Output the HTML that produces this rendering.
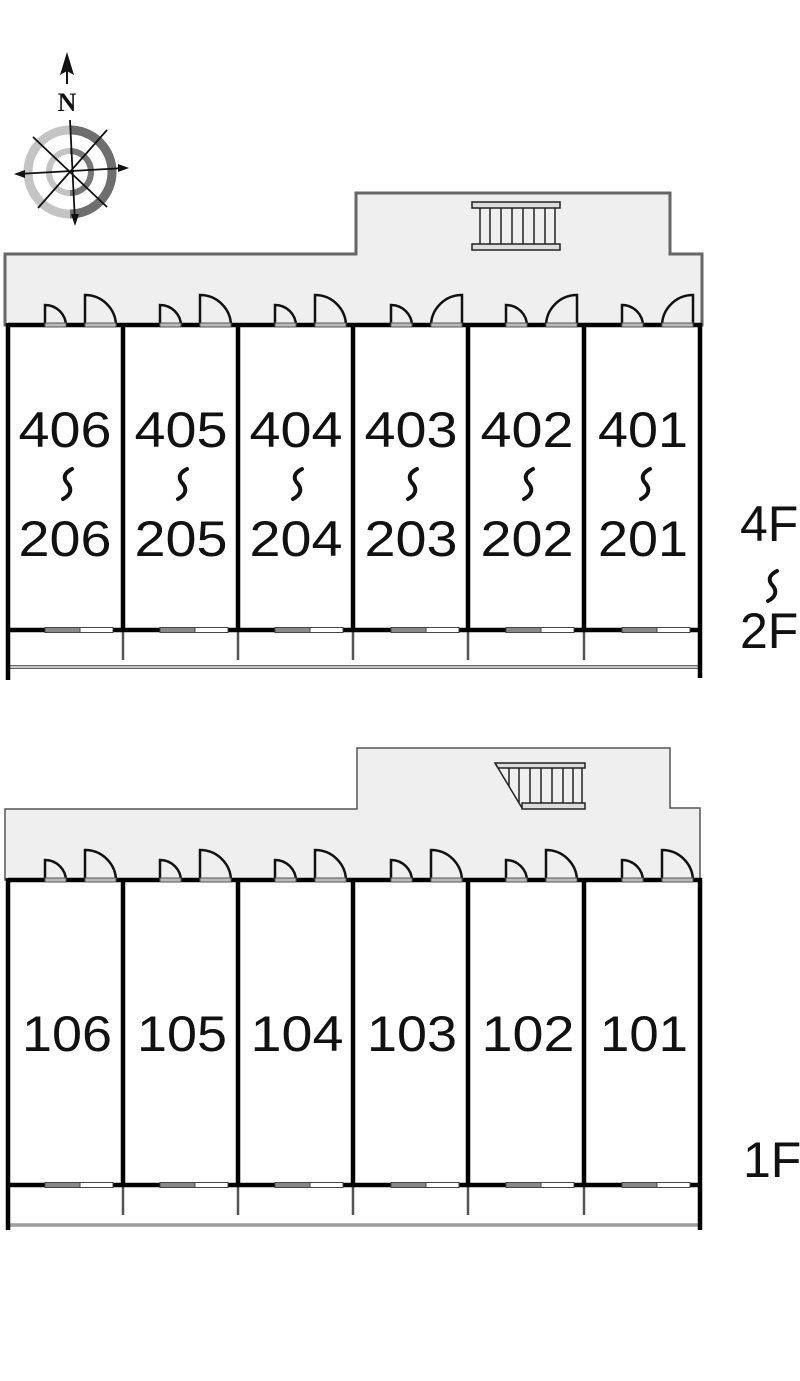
<!DOCTYPE html>
<html><head><meta charset="utf-8"><style>
html,body{margin:0;padding:0;background:#fff;}
svg{display:block;}
text{font-family:"Liberation Sans",sans-serif;fill:#111;}
</style></head><body>
<svg width="800" height="1381" viewBox="0 0 800 1381" xmlns="http://www.w3.org/2000/svg">
<defs>
<g id="sq"><path d="M5,-15 C-5,-10 -3,-4 1,0 C5,5 4,11 -4,15" fill="none" stroke="#111" stroke-width="4" stroke-linecap="round"/></g>
<g id="sdoor"><path d="M0,0 V-21 A21,21 0 0 1 21,0" fill="none" stroke="#111" stroke-width="2.5"/><rect x="0" y="-3" width="21" height="4" fill="#bbb" stroke="#555" stroke-width="1"/></g>
<g id="bdoorL"><path d="M0,0 V-31 A31,31 0 0 1 31,0" fill="none" stroke="#111" stroke-width="2.5"/><rect x="0" y="-3" width="31" height="4" fill="#bbb" stroke="#555" stroke-width="1"/></g>
<g id="bdoorR"><path d="M31,0 V-31 A31,31 0 0 0 0,0" fill="none" stroke="#111" stroke-width="2.5"/><rect x="0" y="-3" width="31" height="4" fill="#bbb" stroke="#555" stroke-width="1"/></g>
<g id="win"><rect x="0" y="-2.5" width="35" height="5" fill="#888" stroke="#444" stroke-width="1"/><rect x="35" y="-2.5" width="33" height="5" fill="#fff" stroke="#444" stroke-width="1"/></g>
</defs>

<!-- compass -->
<g>
<circle cx="70" cy="172" r="42" fill="none" stroke="#c4c4c4" stroke-width="9"/>
<path d="M70,130 A42,42 0 0 1 70,214" fill="none" stroke="#6e6e6e" stroke-width="9"/>
<circle cx="70" cy="172" r="21" fill="none" stroke="#c4c4c4" stroke-width="6"/>
<path d="M70,151 A21,21 0 0 1 70,193" fill="none" stroke="#777" stroke-width="6"/>
<line x1="70" y1="120" x2="75" y2="222" stroke="#111" stroke-width="1.8"/>
<line x1="18" y1="174" x2="125" y2="168" stroke="#111" stroke-width="1.8"/>
<line x1="33" y1="137" x2="107" y2="207" stroke="#111" stroke-width="1.8"/>
<line x1="38" y1="208" x2="107" y2="130" stroke="#111" stroke-width="1.8"/>
<polygon points="75,226 71,214 79,214" fill="#111"/>
<polygon points="14,174 25,170 25,178" fill="#111"/>
<polygon points="129,168 118,164 118,172" fill="#111"/>
<line x1="67" y1="60" x2="67" y2="84" stroke="#111" stroke-width="2"/>
<polygon points="67,52 60,75 67,71 74,75" fill="#111"/>
<text x="67" y="111" font-weight="bold" font-size="26" text-anchor="middle" style="font-family:'Liberation Serif',serif">N</text>
</g>

<!-- UPPER -->
<polygon points="5,325 5,254 356,254 356,193 670,193 670,254 702,254 702,325" fill="#efefef" stroke="#666" stroke-width="3"/>
<g stroke="#222" stroke-width="1.5">
<rect x="472" y="202" width="88" height="6" fill="#ddd"/>
<rect x="472" y="244" width="88" height="6" fill="#ddd"/>
<line x1="480" y1="208" x2="480" y2="244"/><line x1="490" y1="208" x2="490" y2="244"/><line x1="501" y1="208" x2="501" y2="244"/><line x1="512" y1="208" x2="512" y2="244"/><line x1="523" y1="208" x2="523" y2="244"/><line x1="534" y1="208" x2="534" y2="244"/><line x1="545" y1="208" x2="545" y2="244"/><line x1="555" y1="208" x2="555" y2="244"/>
</g>
<line x1="8" y1="667" x2="700" y2="667" stroke="#666" stroke-width="4"/>
<line x1="8" y1="667" x2="700" y2="667" stroke="#fff" stroke-width="1.2"/>
<g stroke="#555" stroke-width="2.5">
<line x1="123" y1="630" x2="123" y2="660"/><line x1="238" y1="630" x2="238" y2="660"/><line x1="353" y1="630" x2="353" y2="660"/><line x1="468" y1="630" x2="468" y2="660"/><line x1="584" y1="630" x2="584" y2="660"/>
</g>
<g stroke="#000" stroke-width="4.5">
<line x1="8" y1="325" x2="702" y2="325"/>
<line x1="8" y1="630" x2="700" y2="630"/>
<line x1="8" y1="323" x2="8" y2="680"/>
<line x1="700" y1="323" x2="700" y2="678"/>
<line x1="123" y1="325" x2="123" y2="630"/><line x1="238" y1="325" x2="238" y2="630"/><line x1="353" y1="325" x2="353" y2="630"/><line x1="468" y1="325" x2="468" y2="630"/><line x1="584" y1="325" x2="584" y2="630"/>
</g>
<g>
<use href="#sdoor" x="45" y="326"/><use href="#bdoorL" x="85" y="326"/><use href="#win" x="45" y="630"/>
<use href="#sdoor" x="160" y="326"/><use href="#bdoorL" x="200" y="326"/><use href="#win" x="160" y="630"/>
<use href="#sdoor" x="275" y="326"/><use href="#bdoorL" x="315" y="326"/><use href="#win" x="275" y="630"/>
<use href="#sdoor" x="391" y="326"/><use href="#bdoorR" x="431" y="326"/><use href="#win" x="391" y="630"/>
<use href="#sdoor" x="506" y="326"/><use href="#bdoorR" x="546" y="326"/><use href="#win" x="506" y="630"/>
<use href="#sdoor" x="622" y="326"/><use href="#bdoorR" x="662" y="326"/><use href="#win" x="622" y="630"/>
</g>
<g font-size="50" text-anchor="middle" lengthAdjust="spacingAndGlyphs">
<text x="65" y="447" textLength="93" lengthAdjust="spacingAndGlyphs">406</text><text x="181" y="447" textLength="93" lengthAdjust="spacingAndGlyphs">405</text><text x="296" y="447" textLength="93" lengthAdjust="spacingAndGlyphs">404</text><text x="411" y="447" textLength="93" lengthAdjust="spacingAndGlyphs">403</text><text x="527" y="447" textLength="93" lengthAdjust="spacingAndGlyphs">402</text><text x="643" y="447" textLength="90" lengthAdjust="spacingAndGlyphs">401</text>
<text x="65" y="556" textLength="93" lengthAdjust="spacingAndGlyphs">206</text><text x="181" y="556" textLength="93" lengthAdjust="spacingAndGlyphs">205</text><text x="296" y="556" textLength="93" lengthAdjust="spacingAndGlyphs">204</text><text x="411" y="556" textLength="93" lengthAdjust="spacingAndGlyphs">203</text><text x="527" y="556" textLength="93" lengthAdjust="spacingAndGlyphs">202</text><text x="643" y="556" textLength="90" lengthAdjust="spacingAndGlyphs">201</text>
</g>
<g font-size="50">
<text x="740" y="541">4F</text><text x="740" y="648">2F</text>
<text x="743" y="1177">1F</text>
</g>
<use href="#sq" x="67" y="484"/><use href="#sq" x="182" y="484"/><use href="#sq" x="297" y="484"/><use href="#sq" x="412" y="484"/><use href="#sq" x="528" y="484"/><use href="#sq" x="645" y="484"/>
<use href="#sq" x="772" y="586"/>

<!-- LOWER -->
<polygon points="5,880 5,809 357,809 357,748 670,748 670,808 700,808 700,880" fill="#efefef" stroke="#555" stroke-width="1.5"/>
<g stroke="#222" stroke-width="1.5">
<polygon points="495,763 585,763 585,768 498,768" fill="#ddd"/>
<line x1="495" y1="763" x2="522" y2="808"/>
<rect x="522" y="803" width="63" height="6" fill="#ddd"/>
<line x1="509" y1="768" x2="509" y2="786"/><line x1="519" y1="768" x2="519" y2="803"/><line x1="530" y1="768" x2="530" y2="803"/><line x1="541" y1="768" x2="541" y2="803"/><line x1="552" y1="768" x2="552" y2="803"/><line x1="563" y1="768" x2="563" y2="803"/><line x1="573" y1="768" x2="573" y2="803"/><line x1="582" y1="768" x2="582" y2="803"/>
</g>
<line x1="8" y1="1225" x2="700" y2="1225" stroke="#666" stroke-width="3"/>
<line x1="8" y1="1225" x2="700" y2="1225" stroke="#fff" stroke-width="0.8"/>
<g stroke="#555" stroke-width="2.5">
<line x1="123" y1="1185" x2="123" y2="1215"/><line x1="238" y1="1185" x2="238" y2="1215"/><line x1="353" y1="1185" x2="353" y2="1215"/><line x1="468" y1="1185" x2="468" y2="1215"/><line x1="584" y1="1185" x2="584" y2="1215"/>
</g>
<g stroke="#000" stroke-width="4.5">
<line x1="8" y1="880" x2="702" y2="880"/>
<line x1="8" y1="1185" x2="700" y2="1185"/>
<line x1="8" y1="878" x2="8" y2="1230"/>
<line x1="700" y1="878" x2="700" y2="1230"/>
<line x1="123" y1="880" x2="123" y2="1185"/><line x1="238" y1="880" x2="238" y2="1185"/><line x1="353" y1="880" x2="353" y2="1185"/><line x1="468" y1="880" x2="468" y2="1185"/><line x1="584" y1="880" x2="584" y2="1185"/>
</g>
<g>
<use href="#sdoor" x="45" y="881"/><use href="#bdoorL" x="85" y="881"/><use href="#win" x="45" y="1185"/>
<use href="#sdoor" x="160" y="881"/><use href="#bdoorL" x="200" y="881"/><use href="#win" x="160" y="1185"/>
<use href="#sdoor" x="275" y="881"/><use href="#bdoorL" x="315" y="881"/><use href="#win" x="275" y="1185"/>
<use href="#sdoor" x="391" y="881"/><use href="#bdoorL" x="431" y="881"/><use href="#win" x="391" y="1185"/>
<use href="#sdoor" x="506" y="881"/><use href="#bdoorL" x="546" y="881"/><use href="#win" x="506" y="1185"/>
<use href="#sdoor" x="622" y="881"/><use href="#bdoorL" x="662" y="881"/><use href="#win" x="622" y="1185"/>
</g>
<g font-size="50" text-anchor="middle">
<text x="67" y="1051" textLength="90" lengthAdjust="spacingAndGlyphs">106</text><text x="182" y="1051" textLength="90" lengthAdjust="spacingAndGlyphs">105</text><text x="297" y="1051" textLength="93" lengthAdjust="spacingAndGlyphs">104</text><text x="412" y="1051" textLength="90" lengthAdjust="spacingAndGlyphs">103</text><text x="528" y="1051" textLength="93" lengthAdjust="spacingAndGlyphs">102</text><text x="644" y="1051" textLength="88" lengthAdjust="spacingAndGlyphs">101</text>
</g>
</svg>
</body></html>
